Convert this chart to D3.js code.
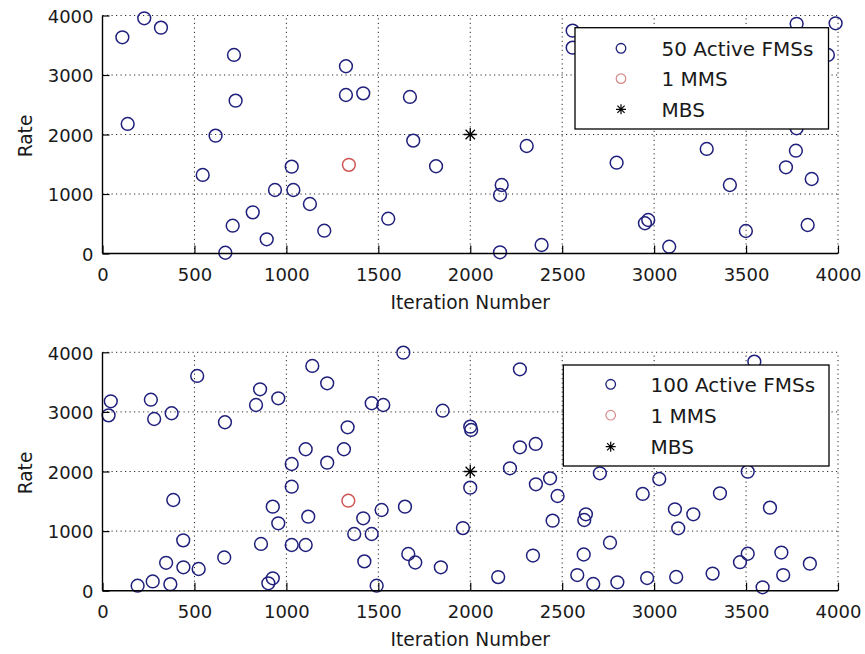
<!DOCTYPE html>
<html>
<head>
<meta charset="utf-8">
<script src="https://cdn.jsdelivr.net/npm/d3@7/dist/d3.min.js"></script>
<style>
  html, body { margin: 0; padding: 0; background: #fff; }
  svg { display: block; }
  text { font-family: "DejaVu Sans", sans-serif; fill: #1a1a1a; }
</style>
</head>
<body>
<svg id="chart" width="865" height="654"></svg>
<script>
// ---------------- DATA ----------------
const xTicks = [0, 500, 1000, 1500, 2000, 2500, 3000, 3500, 4000];
const yTicks = [0, 1000, 2000, 3000, 4000];
const xLabel = "Iteration Number";
const yLabel = "Rate";

// Top subplot: 50 active FMSs (visible ones)
const topFmsX = [108, 227, 318, 715, 1324, 1324, 1418, 1672, 724, 137, 615, 1690, 1029, 1814, 545, 938, 1038, 1128, 817, 708, 1554, 1206, 893, 668,
  2307, 2171, 2162, 2162, 2388, 2557, 2557, 2796, 3286, 3412, 2950, 2968, 3082, 3499, 3775, 3987, 3945, 3775, 3771, 3717, 3857, 3835];
const topFmsY = [3634, 3953, 3796, 3337, 3147, 2664, 2692, 2631, 2569, 2177, 1981, 1897, 1460, 1466, 1320, 1067, 1067, 832, 692, 467, 585, 383, 239, 13,
  1807, 1151, 983, 20, 143, 3745, 3460, 1526, 1757, 1151, 508, 563, 114, 378, 3860, 3869, 3337, 2104, 1728, 1449, 1252, 479];
const topMmsX = [1340];
const topMmsY = [1490];
const topMbsX = [2000];
const topMbsY = [2000];
const topLegend = ["50 Active FMSs", "1 MMS", "MBS"];

// Bottom subplot: 100 active FMSs (visible ones)
const botFmsX = [1636, 515, 1141, 1222, 45, 33, 263, 281, 376, 857, 835, 956, 1464, 1527, 1850, 666, 1333, 2000, 2005, 1105,
  1313, 1029, 1222, 1029, 2000, 385, 926, 1119, 956, 1418, 1518, 1645, 1369, 1464, 1960, 439, 862, 1029, 1105, 346,
  440, 523, 662, 1424, 1663, 1701, 1840, 191, 273, 369, 902, 926, 1491, 2270, 3545, 2270, 2356, 2216, 2357, 2434,
  2475, 2705, 2938, 3028, 3509, 3358, 3630, 2448, 2629, 2620, 3113, 3213, 3131, 2760, 2341, 2617, 3509, 3467, 3692, 3847,
  2152, 2582, 2669, 2800, 2962, 3120, 3318, 3702, 3590];
const botFmsY = [3994, 3603, 3771, 3480, 3178, 2942, 3205, 2881, 2977, 3379, 3116, 3228, 3145, 3116, 3020, 2826, 2742, 2752, 2697, 2373,
  2373, 2126, 2148, 1745, 1729, 1522, 1410, 1242, 1131, 1215, 1354, 1410, 951, 951, 1050, 845, 784, 767, 767, 468,
  393, 364, 557, 492, 616, 473, 393, 84, 155, 110, 124, 208, 84, 3715, 3843, 2406, 2462, 2054, 1785, 1886,
  1589, 1970, 1623, 1874, 1997, 1634, 1393, 1175, 1282, 1186, 1366, 1282, 1047, 805, 590, 607, 620, 478, 640, 454,
  228, 263, 112, 141, 212, 230, 287, 263, 57];
const botMmsX = [1337];
const botMmsY = [1510];
const botMbsX = [2000];
const botMbsY = [2000];
const botLegend = ["100 Active FMSs", "1 MMS", "MBS"];

// ---------------- STYLE / LAYOUT ----------------
const svg = d3.select("#chart");
const blue = "#20207c";
const red = "#cf5555";
const starPath = s => `M${-s},0H${s}M0,${-s}V${s}M${-s*0.72},${-s*0.72}L${s*0.72},${s*0.72}M${-s*0.72},${s*0.72}L${s*0.72},${-s*0.72}`;

function panel(cfg) {
  const { top, bottom, left, right, fmsX, fmsY, mmsX, mmsY, mbsX, mbsY, legend, leg } = cfg;
  const x = d3.scaleLinear().domain([0, 4000]).range([left, right]);
  const y = d3.scaleLinear().domain([0, 4000]).range([bottom, top]);
  const g = svg.append("g");

  // grid
  const grid = g.append("g").attr("stroke", "#2a2a2a").attr("stroke-width", 1)
    .attr("stroke-dasharray", "1.2,3.3").attr("fill", "none");
  grid.selectAll("line.v").data(xTicks.filter(d => d > 0)).join("line")
    .attr("x1", d => x(d)).attr("x2", d => x(d)).attr("y1", bottom).attr("y2", top);
  grid.selectAll("line.h").data(yTicks.filter(d => d > 0)).join("line")
    .attr("class", "h")
    .attr("x1", left).attr("x2", right).attr("y1", d => y(d)).attr("y2", d => y(d));

  // points
  const fms = fmsX.map((v, i) => [v, fmsY[i]]);
  g.append("g").selectAll("circle").data(fms).join("circle")
    .attr("cx", d => x(d[0])).attr("cy", d => y(d[1])).attr("r", 6.4)
    .attr("fill", "none").attr("stroke", blue).attr("stroke-width", 1.5);
  const mms = mmsX.map((v, i) => [v, mmsY[i]]);
  g.append("g").selectAll("circle").data(mms).join("circle")
    .attr("cx", d => x(d[0])).attr("cy", d => y(d[1])).attr("r", 6.4)
    .attr("fill", "none").attr("stroke", red).attr("stroke-width", 1.5);
  const mbs = mbsX.map((v, i) => [v, mbsY[i]]);
  g.append("g").selectAll("path").data(mbs).join("path")
    .attr("transform", d => `translate(${x(d[0])},${y(d[1])})`)
    .attr("d", starPath(6.5)).attr("stroke", "#000").attr("stroke-width", 1.3).attr("fill", "none");

  // axes
  const xAxis = d3.axisBottom(x).tickValues(xTicks).tickSize(-8).tickPadding(0).tickFormat(d3.format("d"));
  const xa = g.append("g").attr("transform", `translate(0,${bottom})`).call(xAxis);
  xa.select(".domain").attr("d", `M${left},0H${right}`).attr("stroke", "#000").attr("stroke-width", 1.4);
  xa.selectAll(".tick line").attr("stroke", "#000").attr("stroke-width", 1.2);
  xa.selectAll(".tick text").attr("y", 27).attr("dy", 0).style("font-size", "18px")
    .style("font-family", "DejaVu Sans, sans-serif").attr("fill", "#222");

  const yAxis = d3.axisLeft(y).tickValues(yTicks).tickSize(-7).tickPadding(0).tickFormat(d3.format("d"));
  const ya = g.append("g").attr("transform", `translate(${left},0)`).call(yAxis);
  ya.select(".domain").attr("d", `M0,${bottom}V${top}`).attr("stroke", "#000").attr("stroke-width", 1.4);
  ya.selectAll(".tick line").attr("stroke", "#000").attr("stroke-width", 1.2);
  ya.selectAll(".tick text").attr("x", -9).attr("dy", "0.38em").style("font-size", "18px")
    .style("font-family", "DejaVu Sans, sans-serif").attr("fill", "#222");

  // labels
  g.append("text").attr("x", (left + right) / 2).attr("y", bottom + 55.5)
    .attr("text-anchor", "middle").style("font-size", "18.6px").text(xLabel);
  g.append("text").attr("transform", `translate(32,${(top + bottom) / 2 + 1.5}) rotate(-90)`)
    .attr("text-anchor", "middle").style("font-size", "18.6px").text(yLabel);

  // legend
  const lg = g.append("g");
  lg.append("rect").attr("x", leg.x0).attr("y", leg.y0).attr("width", leg.x1 - leg.x0).attr("height", leg.y1 - leg.y0)
    .attr("fill", "#fff").attr("stroke", "#000").attr("stroke-width", 1.3);
  const rows = leg.rows;
  lg.append("circle").attr("cx", leg.mx).attr("cy", rows[0]).attr("r", 4.8)
    .attr("fill", "none").attr("stroke", blue).attr("stroke-width", 1.3);
  lg.append("circle").attr("cx", leg.mx).attr("cy", rows[1]).attr("r", 4.8)
    .attr("fill", "none").attr("stroke", "#d68a8a").attr("stroke-width", 1.2);
  lg.append("path").attr("transform", `translate(${leg.mx},${rows[2]})`).attr("d", starPath(5))
    .attr("stroke", "#000").attr("stroke-width", 1.2).attr("fill", "none");
  lg.selectAll("text").data(legend).join("text")
    .attr("x", leg.tx).attr("y", (d, i) => rows[i] + 7.3)
    .style("font-size", "20px").text(d => d);
}

panel({ top: 15.5, bottom: 253.5, left: 102.5, right: 838,
  fmsX: topFmsX, fmsY: topFmsY, mmsX: topMmsX, mmsY: topMmsY, mbsX: topMbsX, mbsY: topMbsY,
  legend: topLegend,
  leg: { x0: 575, x1: 828.5, y0: 27.7, y1: 129, mx: 621, tx: 661.5, rows: [48.3, 78.6, 109.3] } });

panel({ top: 352.3, bottom: 590.7, left: 102.5, right: 838,
  fmsX: botFmsX, fmsY: botFmsY, mmsX: botMmsX, mmsY: botMmsY, mbsX: botMbsX, mbsY: botMbsY,
  legend: botLegend,
  leg: { x0: 563.3, x1: 829, y0: 365, y1: 466, mx: 610.7, tx: 650.5, rows: [384.3, 415.2, 446.7] } });
</script>
</body>
</html>
